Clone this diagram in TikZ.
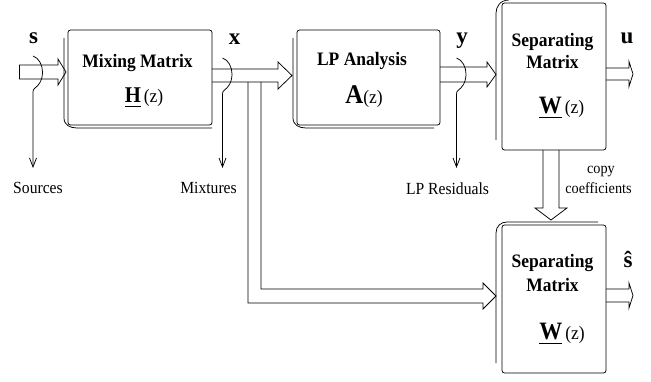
\documentclass[tikz,border=0pt]{standalone}
\usepackage{fontspec}
\setmainfont{Liberation Serif}
\usetikzlibrary{calc,arrows.meta}

% font size helper and slightly condensed text
\newcommand\fsz[1]{\fontsize{#1}{#1}\selectfont}
\newcommand\cond[1]{\scalebox{0.92}[1]{#1}}
% bold symbol with a heavy underline
\newcommand\undl[1]{\sbox0{#1}\rlap{\rule[-5pt]{\wd0}{1.2pt}}\usebox0}

% hollow block arrow pointing right: start, tip, half shaft, head length, half head
\newcommand\harrow[5]{%
  \draw[hol] ($(#1)+(0,-#3)$) -- ($(#2)+(-#4,-#3)$) -- ($(#2)+(-#4,-#5)$) -- (#2)
    -- ($(#2)+(-#4,#5)$) -- ($(#2)+(-#4,#3)$) -- ($(#1)+(0,#3)$);}

% signal tap: a bracket round the arrow and a thin drop line to the label
\newcommand\tapat[1]{%
  \draw[tap] (#1) .. controls +(6,2) and +(0,-7) .. ++(9.5,16)
    .. controls +(0,9) and +(3,-2) .. ++(-7.5,16)
    .. controls +(-1.5,1) and +(0,-2) .. ++(-2,4) -- (#1 |- dropY);}

\begin{document}
\begin{tikzpicture}[x=1pt,y=-1pt,line width=0.75pt,
  box/.style={draw, rounded corners=2.5pt, inner sep=0pt, outer sep=0pt},
  txt/.style={inner sep=0pt, anchor=base},
  hol/.style={line join=miter},
  tap/.style={-{Straight Barb[length=9pt,width=7pt]}}
]
\useasboundingbox (0,0) rectangle (651,381);

% ---- blocks ----
\node[box, minimum width=144pt, minimum height=95pt] (mix) at (140,77.5) {};
\node[box, minimum width=143pt, minimum height=95pt] (lp) at (368.5,77.5) {};
\node[box, minimum width=104pt, minimum height=147pt] (sepA) at (554,76.5) {};
\node[box, minimum width=104pt, minimum height=148pt] (sepB) at (554,299) {};

% sheets behind the blocks
\draw ($(mix.north west)+(-4,8)$) -- ($(mix.south west)+(-4,-7)$)
  .. controls ($(mix.south west)+(-4,0)$) and ($(mix.south west)+(2,3)$) .. ($(mix.south west)+(9,3)$)
  -- ($(mix.south east)+(0,3)$);
\draw ($(lp.north west)+(-4,8)$) -- ($(lp.south west)+(-4,-7)$)
  .. controls ($(lp.south west)+(-4,0)$) and ($(lp.south west)+(2,3)$) .. ($(lp.south west)+(9,3)$)
  -- ($(lp.south east)+(-6,3)$);
\draw ($(sepA.south west)+(-6,-10)$) -- ($(sepA.north west)+(-6,10)$)
  .. controls ($(sepA.north west)+(-6,4)$) and ($(sepA.north west)+(-2,-3)$) .. ($(sepA.north west)+(7,-3)$);
\draw ($(sepB.south west)+(-6,-10)$) -- ($(sepB.north west)+(-6,8)$)
  .. controls ($(sepB.north west)+(-6,1)$) and ($(sepB.north west)+(-1,-3)$) .. ($(sepB.north west)+(5,-3)$)
  -- ($(sepB.north east)+(-8,-3)$);

% ---- block texts ----
\node[txt] (mixT) at (137.5,67) {\cond{\fsz{19}\bfseries Mixing Matrix}};
\node[txt] (mixF) at (144,102) {\cond{\fsz{22.5}\bfseries\undl{H}}\hspace{3pt}\cond{\fsz{19}(z)}};
\node[txt] (lpT) at (362,65) {\cond{\fsz{19}\bfseries LP Analysis}};
\node[txt] (lpF) at (364,103) {\cond{\fsz{27}\bfseries A}\cond{\fsz{19}(z)}};
\node[txt] (sepAT1) at (552.5,46) {\cond{\fsz{19}\bfseries Separating}};
\node[txt] (sepAT2) at (552.5,68) {\cond{\fsz{19}\bfseries Matrix}};
\node[txt] (sepAF) at (561.5,113) {\cond{\fsz{25}\bfseries\undl{W}}\hspace{3pt}\cond{\fsz{19}(z)}};
\node[txt] (sepBT1) at (552.5,267) {\cond{\fsz{19}\bfseries Separating}};
\node[txt] (sepBT2) at (552.5,291) {\cond{\fsz{19}\bfseries Matrix}};
\node[txt] (sepBF) at (562,339) {\cond{\fsz{25}\bfseries\undl{W}}\hspace{3pt}\cond{\fsz{19}(z)}};

% ---- signal names ----
\node[txt] (sLab) at (33.5,43) {\fsz{23}\bfseries s};
\node[txt] (xLab) at (234.5,44) {\fsz{23}\bfseries x};
\node[txt] (yLab) at (462,43) {\fsz{23}\bfseries y};
\node[txt] (uLab) at (627,43) {\fsz{23}\bfseries u};
\node[txt] (shLab) at (628,267) {\fsz{23}\bfseries \^{s}};

\node[txt] (src) at (38,193) {\cond{\fsz{17}Sources}};
\node[txt] (mxs) at (208.5,193) {\cond{\fsz{17}Mixtures}};
\node[txt] (lpr) at (447.5,194) {\cond{\fsz{17}LP Residuals}};
\node[txt] (cp1) at (601,173) {\cond{\fsz{15.5}copy}};
\node[txt] (cp2) at (598.5,193) {\cond{\fsz{15.5}coefficients}};

% ---- block arrows ----
\coordinate (sIn) at (19,72);
\coordinate (sTip) at ($(mix.west |- sIn)+(-2,0)$);
\harrow{sIn}{sTip}{7}{8}{13}
\draw ($(sIn)+(0,-7)$) -- ($(sIn)+(0,7)$);

\coordinate (xOut) at ($(mix.east)+(0,-2)$);
\coordinate (xTip) at ($(lp.west)+(-5,-2)$);
\harrow{xOut}{xTip}{6.5}{14}{13.5}

\coordinate (yOut) at ($(lp.east)+(0,-3)$);
\coordinate (yTip) at ($(sepA.west)+(-6,-2)$);
\harrow{yOut}{yTip}{7.5}{9}{12.5}

\coordinate (uOut) at ($(sepA.east)+(0,-2.5)$);
\coordinate (uTip) at ($(sepA.east)+(27,-2.5)$);
\harrow{uOut}{uTip}{6}{4}{12.5}

\coordinate (shOut) at ($(sepB.east)+(0,-3.5)$);
\coordinate (shTip) at ($(sepB.east)+(27,-3.5)$);
\harrow{shOut}{shTip}{6.5}{4}{12.5}

% mixtures branch feeding the second separating block
\coordinate (forkA) at ($(xOut)+(36,6.5)$);
\coordinate (forkB) at ($(xOut)+(49,6.5)$);
\coordinate (lowTip) at ($(sepB.west)+(-6,-3)$);
\draw[hol] (forkA) -- ($(forkA |- lowTip)+(0,7)$) -- ($(lowTip)+(-13,7)$) -- ($(lowTip)+(-13,13)$)
  -- (lowTip) -- ($(lowTip)+(-13,-13)$) -- ($(lowTip)+(-13,-7)$)
  -- ($(forkB |- lowTip)+(0,-7)$) -- (forkB);

% coefficient copy between the separating blocks
\coordinate (cpOut) at ($(sepA.south)+(-3,0)$);
\coordinate (cpTip) at ($(sepB.north)+(-3,-5)$);
\draw[hol] ($(cpOut)+(-8,0)$) -- ($(cpTip)+(-8,-12)$) -- ($(cpTip)+(-16,-12)$) -- (cpTip)
  -- ($(cpTip)+(16,-12)$) -- ($(cpTip)+(8,-12)$) -- ($(cpOut)+(8,0)$);

% ---- taps to the signal labels ----
\coordinate (dropY) at (0,168);
\coordinate (sTap) at (33,56);
\coordinate (xTap) at (222.5,58);
\coordinate (yTap) at (456.5,58);
\tapat{sTap}
\tapat{xTap}
\tapat{yTap}
\end{tikzpicture}
\end{document}
